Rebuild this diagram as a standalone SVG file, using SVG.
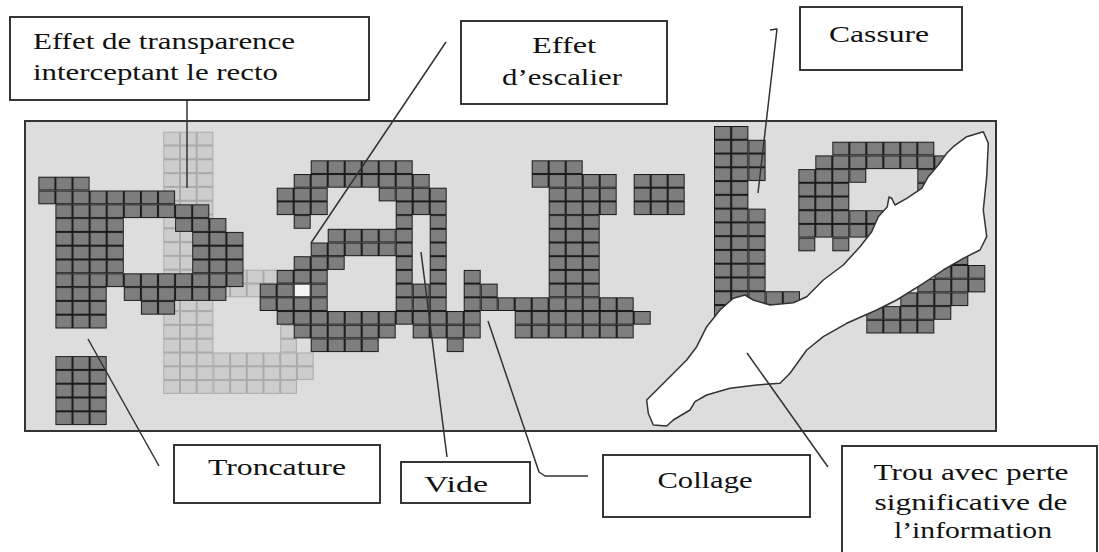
<svg xmlns="http://www.w3.org/2000/svg" width="1099" height="552" viewBox="0 0 1099 552">
<style>
.box{fill:#fff;stroke:#222;stroke-width:1.8}
.lbl{font-family:"Liberation Serif","Times New Roman",serif;font-size:24px;fill:#111}
.mid{text-anchor:middle}
.con{fill:none;stroke:#333;stroke-width:1.5;stroke-linejoin:round}
</style>
<defs>
<pattern id="pd" patternUnits="userSpaceOnUse" width="1" height="1">
<rect width="1" height="1" fill="#1c1c1c"/>
<rect x="0.06" y="0.075" width="0.88" height="0.85" fill="#7e7e7e"/>
</pattern>
<pattern id="pl" patternUnits="userSpaceOnUse" width="1" height="1">
<rect width="1" height="1" fill="#aaaaaa"/>
<rect x="0.06" y="0.075" width="0.88" height="0.85" fill="#cdcdcd"/>
</pattern>
</defs>
<rect id="page" x="25" y="121" width="971" height="310" fill="#dddddd" stroke="#333" stroke-width="2"/>
<g id="light-b" transform="translate(163.3,131.7) scale(16.7,13.8)" fill="url(#pl)">
<rect x="0" y="0" width="3" height="19"/>
<rect x="3" y="10" width="6" height="2"/>
<rect x="7" y="12" width="1" height="4"/>
<rect x="3" y="16" width="6" height="2"/>
<rect x="3" y="18" width="5" height="1"/>
</g>
<g id="letter-p" transform="translate(38.3,176.7) scale(17.1,13.8)" fill="url(#pd)">
<rect x="0" y="0" width="3" height="1"/>
<rect x="0" y="1" width="8" height="1"/>
<rect x="1" y="2" width="9" height="1"/>
<rect x="1" y="3" width="4" height="4"/>
<rect x="8" y="3" width="3" height="1"/>
<rect x="9" y="4" width="3" height="3"/>
<rect x="1" y="7" width="11" height="1"/>
<rect x="1" y="8" width="3" height="3"/>
<rect x="5" y="8" width="6" height="1"/>
<rect x="6" y="9" width="2" height="1"/>
<rect x="1" y="13" width="3" height="5"/>
</g>
<g id="letters-a-i" transform="translate(276.7,160.3) scale(17,13.7)" fill="url(#pd)">
<rect x="2" y="0" width="6" height="1"/>
<rect x="15" y="0" width="3" height="1"/>
<rect x="1" y="1" width="8" height="1"/>
<rect x="15" y="1" width="5" height="1"/>
<rect x="21" y="1" width="3" height="3"/>
<rect x="0" y="2" width="3" height="2"/>
<rect x="6" y="2" width="1" height="1"/>
<rect x="7" y="2" width="3" height="2"/>
<rect x="16" y="2" width="4" height="2"/>
<rect x="16" y="4" width="3" height="6"/>
<rect x="9" y="4" width="1" height="7"/>
<rect x="7" y="4" width="1" height="7"/>
<rect x="1" y="4" width="1" height="1"/>
<rect x="3" y="5" width="4" height="1"/>
<rect x="2" y="6" width="5" height="1"/>
<rect x="1" y="7" width="3" height="1"/>
<rect x="0" y="8" width="3" height="1"/>
<rect x="8" y="9" width="1" height="2"/>
<rect x="-1" y="9" width="2" height="1"/>
<rect x="2" y="9" width="1" height="1"/>
<rect x="-1" y="10" width="4" height="1"/>
<rect x="11" y="8" width="1" height="3"/>
<rect x="12" y="9" width="1" height="2"/>
<rect x="13" y="10" width="8" height="1"/>
<rect x="0" y="11" width="12" height="1"/>
<rect x="14" y="11" width="8" height="1"/>
<rect x="1" y="12" width="6" height="1"/>
<rect x="8" y="12" width="4" height="1"/>
<rect x="14" y="12" width="7" height="1"/>
<rect x="2" y="13" width="4" height="1"/>
<rect x="10" y="13" width="1" height="1"/>
<rect x="1" y="9" width="1" height="1" fill="#1c1c1c"/>
<rect x="1.06" y="9.075" width="0.88" height="0.85" fill="#f3f3f3"/>
</g>
<g id="letter-l" transform="translate(714,126) scale(17.2,13.77)" fill="url(#pd)">
<rect x="0" y="0" width="2" height="14"/>
<rect x="2" y="1" width="1" height="3"/>
<rect x="2" y="6" width="1" height="7"/>
<rect x="3" y="12" width="2" height="1"/>
</g>
<g id="letter-r" transform="translate(798.3,141.7) scale(17,13.7)" fill="url(#pd)">
<rect x="2" y="0" width="6" height="1"/>
<rect x="1" y="1" width="8" height="1"/>
<rect x="0" y="2" width="3" height="5"/>
<rect x="3" y="2" width="1" height="1"/>
<rect x="7" y="2" width="2" height="1"/>
<rect x="7" y="3" width="1" height="1"/>
<rect x="3" y="5" width="2" height="2"/>
<rect x="0" y="7" width="1" height="1"/>
<rect x="2" y="7" width="1" height="1"/>
<rect x="9" y="8" width="1" height="1"/>
<rect x="8" y="9" width="3" height="1"/>
<rect x="7" y="10" width="4" height="1"/>
<rect x="6" y="11" width="4" height="1"/>
<rect x="4" y="12" width="5" height="1"/>
<rect x="4" y="13" width="4" height="1"/>
</g>
<path id="hole" d="M983.3,131.7 L966.7,136.7 L953.3,146.7 L946.7,153.3 L938.3,165 L928.3,176.7 L921.7,188.3 L906.7,198.3 L895,205 L891.7,198.3 L889,197 L887.3,206.7 L878.3,216.7 L871.7,231.7 L860,246.7 L843.3,265 L823.3,280 L806.7,296.7 L793.3,302.7 L770,305 L753.3,300 L745,295 L733.3,298.3 L720,310 L706.7,326.7 L696.7,346.7 L686.7,360 L670,376.7 L656.7,390 L646.7,400 L648.3,413.3 L653.3,425 L666.7,426 L673.3,420 L690,410 L695,401.7 L706.7,395 L730,388.3 L756.7,385 L780,383.3 L790,373.3 L806.7,350 L823.3,336.7 L846.7,323.3 L876.7,310 L896.7,300 L923.3,283.3 L943.3,270 L963.3,258.3 L980,250 L986.7,236.7 L983.3,210 L986.7,176.7 L988.3,143.3 Z" fill="#fff" stroke="#333" stroke-width="1.5" stroke-linejoin="round"/>
<g id="connectors" class="con">
<line x1="187" y1="100" x2="187" y2="188"/>
<line x1="446" y1="42" x2="311" y2="243"/>
<polyline points="770,30 777,29 758,193"/>
<line x1="88" y1="339" x2="159" y2="466"/>
<line x1="421" y1="252" x2="447" y2="457"/>
<polyline points="488,321 539,472 545,476 588,476"/>
<line x1="747" y1="353" x2="828" y2="467"/>
</g>
<g id="label-transparence">
<rect class="box" x="10" y="17" width="359" height="83"/>
<text class="lbl" x="33" y="49" textLength="262" lengthAdjust="spacingAndGlyphs">Effet de transparence</text>
<text class="lbl" x="33" y="80" textLength="245" lengthAdjust="spacingAndGlyphs">interceptant le recto</text>
</g>
<g id="label-escalier">
<rect class="box" x="461" y="21" width="206" height="83"/>
<text class="lbl mid" x="564" y="53" textLength="64" lengthAdjust="spacingAndGlyphs">Effet</text>
<text class="lbl mid" x="562" y="85" textLength="120" lengthAdjust="spacingAndGlyphs">d’escalier</text>
</g>
<g id="label-cassure">
<rect class="box" x="800" y="7" width="162" height="63"/>
<text class="lbl mid" x="879" y="42" textLength="100" lengthAdjust="spacingAndGlyphs">Cassure</text>
</g>
<g id="label-troncature">
<rect class="box" x="174" y="445" width="206" height="58"/>
<text class="lbl mid" x="277" y="475" textLength="138" lengthAdjust="spacingAndGlyphs">Troncature</text>
</g>
<g id="label-vide">
<rect class="box" x="401" y="462" width="129" height="41"/>
<text class="lbl mid" x="456" y="492" textLength="64" lengthAdjust="spacingAndGlyphs">Vide</text>
</g>
<g id="label-collage">
<rect class="box" x="603" y="455" width="207" height="62"/>
<text class="lbl mid" x="705" y="488" textLength="95" lengthAdjust="spacingAndGlyphs">Collage</text>
</g>
<g id="label-trou">
<rect class="box" x="842" y="446" width="255" height="115"/>
<text class="lbl mid" x="971" y="480" textLength="195" lengthAdjust="spacingAndGlyphs">Trou avec perte</text>
<text class="lbl mid" x="971" y="510" textLength="193" lengthAdjust="spacingAndGlyphs">significative de</text>
<text class="lbl mid" x="973" y="538" textLength="158" lengthAdjust="spacingAndGlyphs">l’information</text>
</g>
</svg>
